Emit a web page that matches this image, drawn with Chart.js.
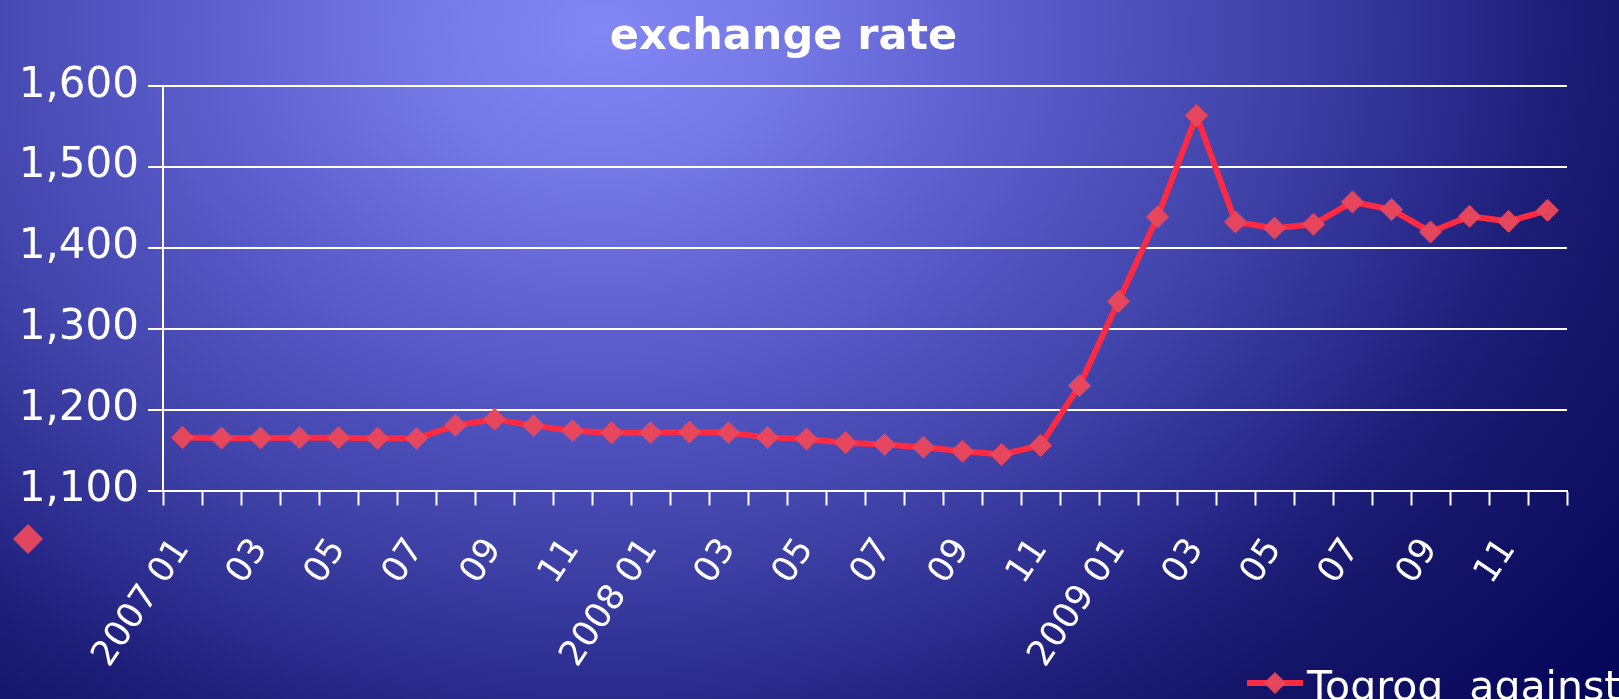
<!DOCTYPE html>
<html>
<head>
<meta charset="utf-8">
<script src="https://cdn.jsdelivr.net/npm/chart.js@4/dist/chart.umd.min.js"></script>
<style>
  html, body { margin: 0; padding: 0; width: 1619px; height: 699px; overflow: hidden; }
  body {
    background: radial-gradient(ellipse 1300px 1010px at 600px 30px,
      #8287f6 0%, #7579e6 14%, #5f62d0 28%, #4f51bd 40%, #4245ab 50%,
      #2b2c8e 65%, #1c1d76 74%, #15166a 81%, #06065a 100%);
  }
  #c { display: block; }
</style>
</head>
<body>
<canvas id="c" width="1619" height="699"></canvas>
<script>
// Monthly categories, 2007-01 .. 2009-12
const years = ['2007', '2008', '2009'];
const months = ['01', '02', '03', '04', '05', '06', '07', '08', '09', '10', '11', '12'];

// Togrog per US dollar, monthly average
const rates2007 = [1165.6, 1164.8, 1164.8, 1165.1, 1165.1, 1164.4, 1164.3, 1180.5, 1188.0, 1180.1, 1173.9, 1171.4];
const rates2008 = [1171.4, 1172.2, 1171.4, 1165.6, 1163.5, 1159.1, 1156.8, 1153.5, 1148.5, 1144.4, 1155.6, 1229.5];
const rates2009 = [1333.7, 1437.8, 1563.0, 1431.6, 1424.0, 1428.8, 1456.3, 1446.9, 1419.3, 1438.6, 1432.4, 1446.0];

const yMin = 1100, yMax = 1600, yStep = 100;
const seriesName = 'Togrog  against USD';
const titleText = 'exchange rate';

const categories = [];
years.forEach(y => months.forEach(m => categories.push(y + ' ' + m)));
const rates = rates2007.concat(rates2008, rates2009);

const FONT = "'DejaVu Sans', sans-serif";
const LINE_RED = '#fd2a42';
const MARK_RED = 'rgba(232, 72, 94, 0.96)';

// Legend entry (bottom right) and the lone marker key at the left
const legendKey = {
  id: 'legendKey',
  afterDraw(chart) {
    const ctx = chart.ctx;
    const ds = chart.data.datasets[0];
    const diamond = (x, y, r) => {
      ctx.beginPath();
      ctx.moveTo(x, y - r);
      ctx.lineTo(x + r, y);
      ctx.lineTo(x, y + r);
      ctx.lineTo(x - r, y);
      ctx.closePath();
      ctx.fill();
    };
    ctx.save();
    ctx.fillStyle = ds.pointBackgroundColor;
    diamond(28, 539, 15);

    ctx.strokeStyle = ds.borderColor;
    ctx.lineWidth = ds.borderWidth;
    ctx.beginPath();
    ctx.moveTo(1247, 683);
    ctx.lineTo(1303, 683);
    ctx.stroke();
    ctx.fillStyle = ds.pointBackgroundColor;
    diamond(1275, 683, 11);

    ctx.fillStyle = '#ffffff';
    ctx.font = '41px ' + FONT;
    ctx.textBaseline = 'alphabetic';
    ctx.textAlign = 'left';
    ctx.fillText(ds.label, 1307, 700);
    ctx.restore();
  }
};

new Chart(document.getElementById('c'), {
  type: 'line',
  data: {
    labels: categories,
    datasets: [{
      label: seriesName,
      data: rates,
      borderColor: LINE_RED,
      borderWidth: 6,
      pointStyle: 'rectRot',
      pointRadius: 11,
      pointBackgroundColor: MARK_RED,
      pointBorderColor: MARK_RED,
      pointBorderWidth: 1,
      tension: 0
    }]
  },
  options: {
    responsive: false,
    animation: false,
    layout: { padding: { left: 0, right: 52, top: 0, bottom: 0 } },
    plugins: {
      legend: { display: false },
      tooltip: { enabled: false },
      title: {
        display: true,
        text: titleText,
        color: '#ffffff',
        font: { family: FONT, size: 43, weight: 'bold', lineHeight: 1.2 },
        padding: { top: 12, bottom: 22 }
      }
    },
    scales: {
      x: {
        offset: true,
        border: { display: true, color: '#ffffff', width: 2 },
        grid: {
          offset: true,
          drawOnChartArea: false,
          drawTicks: true,
          tickLength: 15,
          tickWidth: 2,
          tickColor: '#ffffff'
        },
        ticks: {
          autoSkip: false,
          minRotation: 56,
          maxRotation: 56,
          padding: 26,
          color: '#ffffff',
          font: { family: FONT, size: 35 },
          callback(value, index) {
            if (index % 2 !== 0) return '';
            const label = categories[index];
            return index % 12 === 0 ? label : label.split(' ')[1];
          }
        },
        afterFit(scale) { scale.height = 208.5; }
      },
      y: {
        min: yMin,
        max: yMax,
        border: { display: true, color: '#ffffff', width: 2 },
        grid: {
          color: '#ffffff',
          lineWidth: 2,
          drawTicks: true,
          tickLength: 15,
          tickColor: '#ffffff'
        },
        ticks: {
          stepSize: yStep,
          padding: 9,
          color: '#ffffff',
          font: { family: FONT, size: 42 },
          callback: v => v.toLocaleString('en-US')
        },
        afterFit(scale) { scale.width = 163; }
      }
    }
  },
  plugins: [legendKey]
});
</script>
</body>
</html>
